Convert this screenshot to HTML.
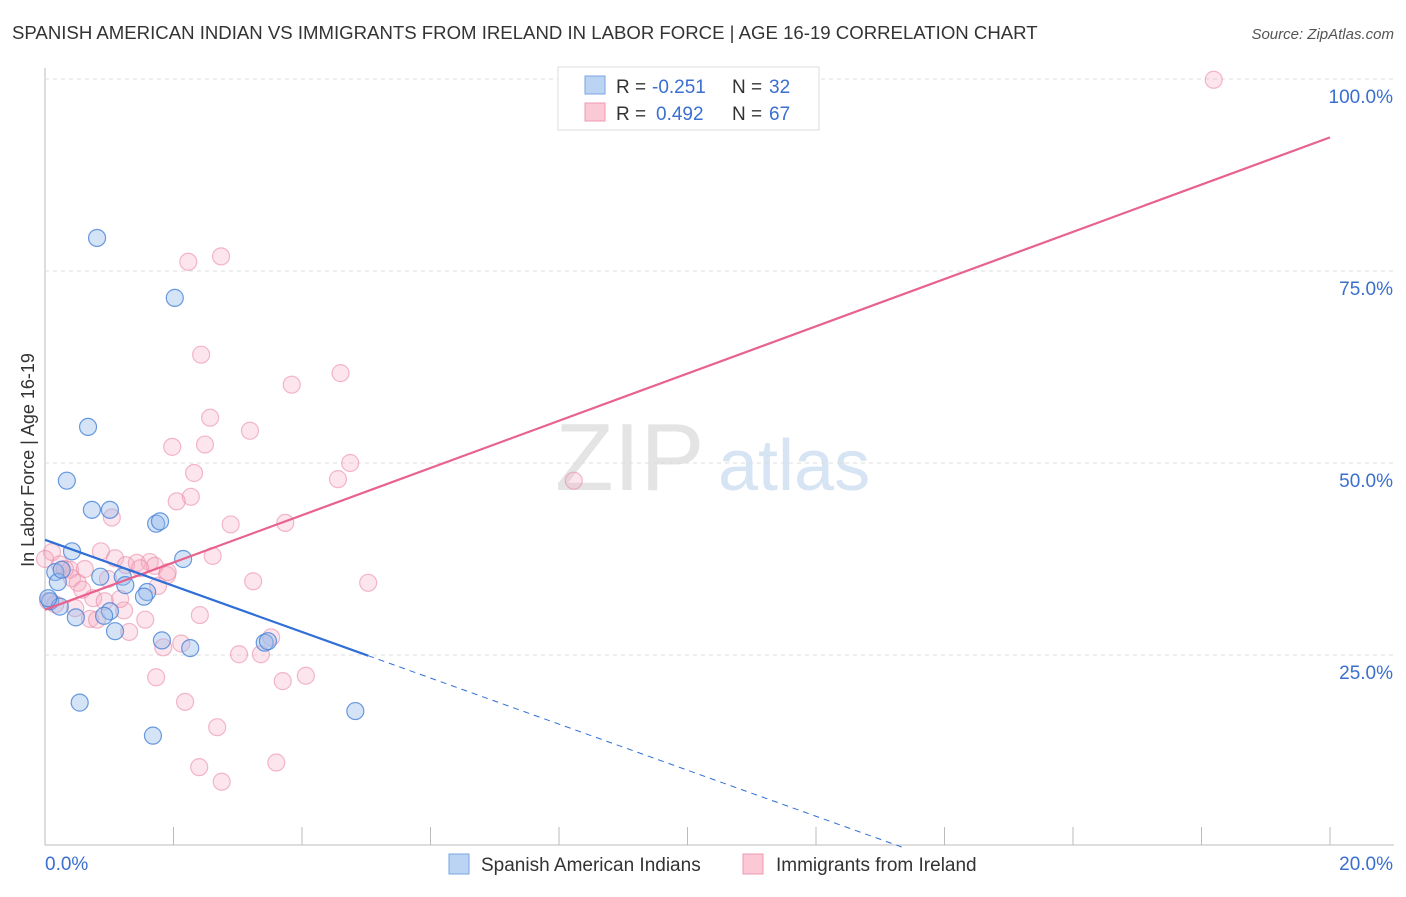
<!DOCTYPE html>
<html><head><meta charset="utf-8"><style>
body{margin:0;background:#fff;font-family:"Liberation Sans",sans-serif;}
svg text{font-family:"Liberation Sans",sans-serif;}
</style></head><body>
<svg id="c" width="1406" height="892">
<text x="12" y="39" font-size="18.6" fill="#333">SPANISH AMERICAN INDIAN VS IMMIGRANTS FROM IRELAND IN LABOR FORCE | AGE 16-19 CORRELATION CHART</text>
<text x="1394" y="39" font-size="15" fill="#555" text-anchor="end" font-style="italic">Source: ZipAtlas.com</text>
<text x="34" y="460" font-size="18" fill="#333" text-anchor="middle" transform="rotate(-90 34 460)">In Labor Force | Age 16-19</text>
<text x="555" y="490" font-size="96" fill="#e4e4e4" font-family="Liberation Serif">ZIP</text>
<text x="718" y="490" font-size="72" fill="#d6e4f4">atlas</text>
<g id="grid"></g><g id="marks"></g>
<g>
<rect x="558" y="67" width="261" height="63" fill="#fff" stroke="#ddd"/>
<rect x="585" y="76" width="20" height="18" fill="#bcd4f4" stroke="#7aa4e0"/>
<rect x="585" y="103" width="20" height="18" fill="#fbc8d6" stroke="#ee9ab2"/>
<text x="616" y="93" font-size="19" fill="#333">R =</text>
<text x="652" y="93" font-size="19" fill="#3a6fd0">-0.251</text>
<text x="732" y="93" font-size="19" fill="#333">N =</text>
<text x="769" y="93" font-size="19" fill="#3a6fd0">32</text>
<text x="616" y="120" font-size="19" fill="#333">R =</text>
<text x="656" y="120" font-size="19" fill="#3a6fd0">0.492</text>
<text x="732" y="120" font-size="19" fill="#333">N =</text>
<text x="769" y="120" font-size="19" fill="#3a6fd0">67</text>
</g>
<g>
<rect x="449" y="854" width="20" height="20" fill="#bcd4f4" stroke="#7aa4e0"/>
<text x="481" y="871" font-size="19" fill="#333">Spanish American Indians</text>
<rect x="743" y="854" width="20" height="20" fill="#fbc8d6" stroke="#ee9ab2"/>
<text x="776" y="871" font-size="19" fill="#333">Immigrants from Ireland</text>
</g>
</svg>
<script>
const yTicks=[25,50,75,100];
const xTickLabels=["0.0%","20.0%"];
const blueX=[0.81,2.02,0.67,0.34,0.73,1.01,1.73,1.79,0.42,2.15,0.16,0.2,0.86,1.21,1.25,1.59,1.54,0.08,0.23,1.01,0.48,0.92,1.09,1.82,2.26,3.42,3.47,0.54,4.83,1.68,0.26,0.05];
const blueY=[79.3,71.5,54.7,47.7,43.9,43.9,42.1,42.4,38.5,37.5,35.8,34.5,35.2,35.2,34.1,33.2,32.6,32.0,31.3,30.7,29.9,30.1,28.1,26.9,25.9,26.6,26.8,18.8,17.7,14.5,36.1,32.4];
const pinkX=[18.19,2.74,2.23,2.43,3.84,4.6,2.57,3.19,1.98,2.49,4.75,2.32,4.56,2.27,2.05,8.23,1.04,2.89,3.74,0.87,2.61,0.11,0.0,0.23,0.39,0.62,1.09,1.26,1.43,1.63,1.71,1.48,1.9,1.91,0.98,3.24,5.03,1.76,0.42,0.51,0.58,0.75,0.93,1.23,0.47,0.7,0.81,1.31,1.56,1.84,2.12,3.02,3.36,3.52,1.73,4.06,3.7,2.18,2.68,2.4,3.6,2.75,0.05,0.16,0.31,2.41,1.17];
const pinkY=[99.9,76.9,76.2,64.1,60.2,61.7,55.9,54.2,52.1,52.4,50.0,48.7,47.9,45.6,45.0,47.7,42.9,42.0,42.2,38.5,37.9,38.4,37.5,36.8,36.1,36.2,37.6,36.7,37.0,37.1,36.6,36.3,35.4,35.8,34.9,34.6,34.4,34.0,35.0,34.4,33.5,32.4,32.0,30.8,31.1,29.7,29.6,28.0,29.6,26.0,26.5,25.1,25.1,27.3,22.1,22.3,21.6,18.9,15.6,10.4,11.0,8.5,32.0,31.6,36.2,30.2,32.3];
const svg=document.getElementById('c'),grid=document.getElementById('grid'),marks=document.getElementById('marks');
const NS='http://www.w3.org/2000/svg';
const X0=45,X1=1330,Y0=847,Y100=79;
const sx=v=>X0+(X1-X0)*v/20, sy=v=>Y0-(Y0-Y100)*v/100;
function mk(t,a,p){const e=document.createElementNS(NS,t);for(const k in a)e.setAttribute(k,a[k]);(p||svg).appendChild(e);return e;}
let ax=mk('line',{x1:X0,y1:68,x2:X0,y2:845,stroke:'#bbb'},grid);


let bx=mk('line',{x1:X0,y1:845,x2:1394,y2:845,stroke:'#bbb'},grid);


for(let i=1;i<=10;i++){let t=mk('line',{x1:sx(i*2),y1:827,x2:sx(i*2),y2:845,stroke:'#bbb'},grid);

}
yTicks.forEach(v=>{let g=mk('line',{x1:X0,y1:sy(v),x2:1394,y2:sy(v),stroke:'#ddd','stroke-dasharray':'4,4'},grid);


let t=mk('text',{x:1393,y:sy(v)+24,'font-size':19,fill:'#3a6fd0','text-anchor':'end'},grid);t.textContent=v.toFixed(1)+'%';

});
xTickLabels.forEach((s,i)=>{let t=mk('text',{x:i?1393:45,y:870,'font-size':19,fill:'#3a6fd0','text-anchor':i?'end':'start'},grid);t.textContent=s;

});
pinkX.forEach((x,i)=>{let c=mk('circle',{cx:sx(x),cy:sy(pinkY[i]),r:8.5,fill:'rgba(246,170,192,0.3)',stroke:'rgba(235,140,168,0.6)','stroke-width':1.2},marks);

});
blueX.forEach((x,i)=>{let c=mk('circle',{cx:sx(x),cy:sy(blueY[i]),r:8.5,fill:'rgba(150,185,235,0.4)',stroke:'rgba(70,130,215,0.8)','stroke-width':1.2},marks);

});
const pinkTrend=[30.9,92.4];const blueTrend=[40.0,-3.0];
let pl=mk('line',{x1:sx(0),y1:sy(pinkTrend[0]),x2:sx(20),y2:sy(pinkTrend[1]),stroke:'#e8628e','stroke-width':2.2},marks);


const bEnd=5.03,bZero=blueTrend[0]/-blueTrend[1];
let bl=mk('line',{x1:sx(0),y1:sy(blueTrend[0]),x2:sx(bEnd),y2:sy(blueTrend[0]+blueTrend[1]*bEnd),stroke:'#2f6fd6','stroke-width':2.2},marks);


let bd=mk('line',{x1:sx(bEnd),y1:sy(blueTrend[0]+blueTrend[1]*bEnd),x2:sx(bZero),y2:sy(0),stroke:'#2f6fd6','stroke-width':1,'stroke-dasharray':'6,5'},marks);


</script>
</body></html>
